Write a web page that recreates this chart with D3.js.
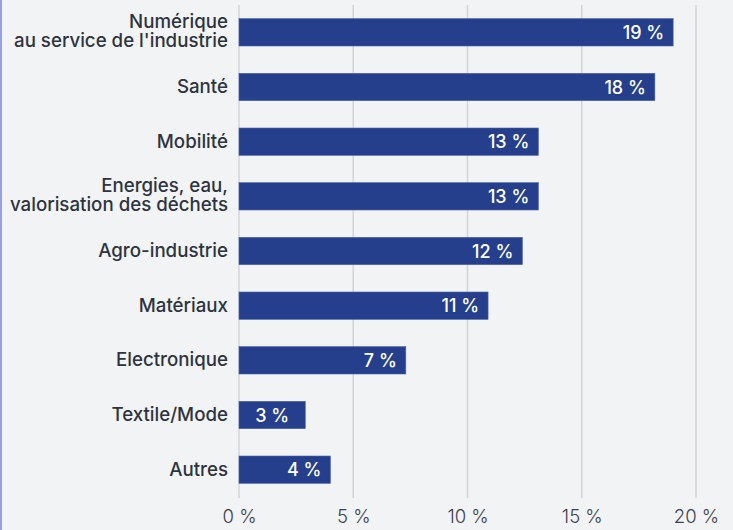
<!DOCTYPE html>
<html>
<head>
<meta charset="utf-8">
<script src="https://cdn.jsdelivr.net/npm/d3@7"></script>
<style>
  html, body { margin: 0; padding: 0; background: #f2f3f5; }
  #chart { width: 733px; height: 530px; }
  text { font-family: Inter, Roboto, sans-serif; }
</style>
</head>
<body>
<div id="chart"></div>
<script>
// Data
const categories = [
  ["Numérique", "au service de l'industrie"],
  ["Santé"],
  ["Mobilité"],
  ["Energies, eau,", "valorisation des déchets"],
  ["Agro-industrie"],
  ["Matériaux"],
  ["Electronique"],
  ["Textile/Mode"],
  ["Autres"]
];
const values = [19.0, 18.2, 13.1, 13.1, 12.4, 10.9, 7.3, 2.9, 4.0];
const valueLabels = ["19 %", "18 %", "13 %", "13 %", "12 %", "11 %", "7 %", "3 %", "4 %"];
const ticks = [0, 5, 10, 15, 20];

// Chart constants
const cw = 733;
const ch = 530;
const plotLeft = 239;
const plotRight = 696;
const gridTop = 5;
const gridBottom = 498;

const svg = d3.select("#chart").append("svg")
              .attr("width", cw)
              .attr("height", ch);

// left border line
svg.append("rect")
   .attr("x", 0)
   .attr("y", 0)
   .attr("width", 2)
   .attr("height", ch)
   .style("fill", "#9aa0e6");

const xScale = d3.scaleLinear()
                 .domain([0, 20])
                 .range([plotLeft, plotRight]);
const yScale = d3.scaleBand()
                 .domain(d3.range(categories.length))
                 .range([5, 497])
                 .paddingInner(0.5)
                 .paddingOuter(0.25);

// grid lines
svg.selectAll(".grid")
   .data(ticks)
   .enter()
   .append("line")
   .attr("class", "grid")
   .attr("x1", d => xScale(d))
   .attr("x2", d => xScale(d))
   .attr("y1", gridTop)
   .attr("y2", gridBottom)
   .style("stroke", "#d3d4d7")
   .style("stroke-width", 1.5);

// x axis labels
const xAxis = d3.axisBottom(xScale)
                .tickValues(ticks)
                .tickSize(0)
                .tickPadding(0)
                .tickFormat(d => d + " %");
const gx = svg.append("g")
              .attr("transform", "translate(0,510)")
              .call(xAxis);
gx.select(".domain").remove();
gx.selectAll("text")
  .style("font-size", "18.5px")
  .style("font-family", "Inter, sans-serif")
  .style("font-weight", 300)
  .style("fill", "#3b4150");

// bars
svg.selectAll(".bar")
   .data(values)
   .enter()
   .append("rect")
   .attr("class", "bar")
   .attr("x", xScale(0))
   .attr("y", (d, i) => yScale(i))
   .attr("width", d => xScale(d) - xScale(0))
   .attr("height", yScale.bandwidth())
   .style("fill", "#253f8c")
   .style("stroke", "#4a63a8")
   .style("stroke-width", 0.6);

// value labels inside bars
svg.selectAll(".val")
   .data(values)
   .enter()
   .append("text")
   .attr("class", "val")
   .attr("x", d => (xScale(d) - xScale(0) < 80) ? (xScale(0) + xScale(d)) / 2 : xScale(d) - 9)
   .attr("y", (d, i) => yScale(i) + yScale.bandwidth() / 2 + 6.5)
   .attr("text-anchor", d => (xScale(d) - xScale(0) < 80) ? "middle" : "end")
   .text((d, i) => valueLabels[i])
   .style("fill", "#ffffff")
   .style("font-size", "18px")
   .style("font-weight", 500);

// category labels
const labels = svg.selectAll(".cat")
   .data(categories)
   .enter()
   .append("text")
   .attr("class", "cat")
   .attr("text-anchor", "end")
   .style("fill", "#2d3340")
   .style("font-size", "18.7px")
   .style("font-weight", 500);

labels.each(function(lines, i) {
  const cy = yScale(i) + yScale.bandwidth() / 2;
  const first = lines.length > 1 ? cy - 4.7 : cy + 6;
  d3.select(this).selectAll("tspan")
    .data(lines)
    .enter()
    .append("tspan")
    .attr("x", 228)
    .attr("y", (d, j) => first + j * 19.7)
    .text(d => d);
});
</script>
</body>
</html>
